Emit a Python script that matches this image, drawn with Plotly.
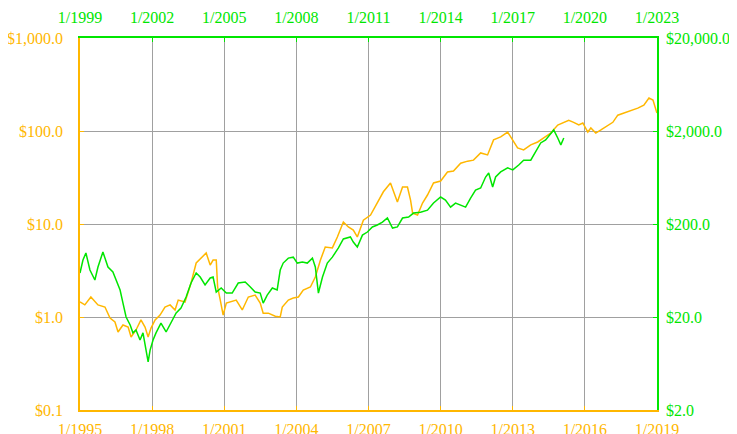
import math
import plotly.graph_objects as go

# ---------------- data ----------------
orange_dates = [
    "1995-01-01", "1995-03-15", "1995-06-15", "1995-10-01", "1996-01-15", "1996-04-01",
    "1996-06-15", "1996-08-01", "1996-10-15", "1997-01-01", "1997-02-15", "1997-05-01",
    "1997-07-15", "1997-09-15", "1997-11-01", "1997-12-15", "1998-02-15", "1998-05-01",
    "1998-07-15", "1998-10-01", "1998-12-15", "1999-02-01", "1999-05-15", "1999-08-15",
    "1999-11-01", "2000-01-15", "2000-04-01", "2000-06-01", "2000-07-15", "2000-09-01",
    "2000-09-22", "2000-11-01", "2000-12-15", "2001-02-01", "2001-04-15", "2001-07-01",
    "2001-10-01", "2002-01-01", "2002-04-15", "2002-07-01", "2002-08-15", "2002-11-01",
    "2003-02-15", "2003-05-01", "2003-06-01", "2003-09-01", "2003-11-15", "2004-02-01",
    "2004-04-15", "2004-08-01", "2004-10-15", "2005-01-01", "2005-03-15", "2005-07-01",
    "2005-09-15", "2005-12-15", "2006-03-01", "2006-05-15", "2006-07-15", "2006-10-15",
    "2007-02-01", "2007-05-15", "2007-08-15", "2007-12-01", "2008-01-15", "2008-03-15",
    "2008-06-01", "2008-08-15", "2008-10-01", "2008-11-01", "2009-01-15", "2009-04-01",
    "2009-06-15", "2009-09-15", "2010-01-01", "2010-04-15", "2010-07-15", "2010-11-01",
    "2011-02-15", "2011-05-15", "2011-09-01", "2011-12-15", "2012-03-15", "2012-07-01",
    "2012-10-15", "2013-01-01", "2013-03-15", "2013-06-15", "2013-10-01", "2014-01-15",
    "2014-04-15", "2014-08-01", "2014-11-15", "2015-02-15", "2015-05-01", "2015-07-15",
    "2015-10-01", "2015-12-01", "2016-02-15", "2016-04-01", "2016-06-15", "2016-09-01",
    "2016-12-15", "2017-03-01", "2017-05-15", "2017-08-15", "2017-12-01", "2018-03-15",
    "2018-06-15", "2018-09-01", "2018-11-01", "2018-12-15", "2018-12-31",
]
orange_values = [
    1.45, 1.35, 1.64, 1.35, 1.28, 0.975,
    0.883, 0.69, 0.82, 0.78, 0.61, 0.725,
    0.93, 0.78, 0.61, 0.76, 0.93, 1.05,
    1.28, 1.35, 1.19, 1.52, 1.45, 2.32,
    3.81, 4.31, 4.88, 3.62, 4.10, 4.10,
    2.10, 1.52, 1.05, 1.41, 1.45, 1.52,
    1.19, 1.64, 1.72, 1.41, 1.10, 1.10,
    1.02, 1.00, 1.28, 1.52, 1.60, 1.64,
    1.95, 2.10, 2.69, 4.10, 5.66, 5.53,
    7.25, 10.5, 9.29, 8.6, 7.25, 11.0,
    12.5, 16.8, 22.2, 27.6, 22.2, 17.2,
    25.0, 25.0, 18.1, 13.1, 12.5, 16.8,
    20.5, 27.6, 29.0, 36.3, 37.2, 45.1,
    47.4, 48.6, 58.1, 55.3, 80.2, 86.3,
    97.4, 80.2, 65.7, 62.6, 70.9, 76.2,
    84.2, 95.1, 116.0, 124.0, 130.0, 124.0,
    116.0, 122.0, 97.4, 107.7, 95.1, 102.6,
    116.0, 124.0, 148.0, 156.0, 168.0, 176.0,
    190.0, 226.0, 215.0, 168.0, 156.0,
]

green_dates = [
    "1999-01-01", "1999-02-15", "1999-04-01", "1999-06-01", "1999-08-15", "1999-10-01",
    "1999-12-15", "2000-03-01", "2000-05-15", "2000-07-01", "2000-09-01", "2000-10-15",
    "2000-12-01", "2001-02-01", "2001-03-15", "2001-05-01", "2001-07-01", "2001-08-15",
    "2001-10-01", "2001-11-01", "2001-12-01", "2002-01-15", "2002-03-01", "2002-05-15",
    "2002-08-01", "2002-10-15", "2003-01-01", "2003-03-15", "2003-06-01", "2003-08-15",
    "2003-11-01", "2004-01-01", "2004-03-15", "2004-06-01", "2004-07-15", "2004-09-01",
    "2004-11-15", "2005-02-01", "2005-05-01", "2005-08-01", "2005-11-15", "2006-02-01",
    "2006-04-15", "2006-07-01", "2006-08-15", "2006-10-15", "2007-01-01", "2007-03-15",
    "2007-05-01", "2007-06-15", "2007-09-01", "2007-11-15", "2008-01-15", "2008-04-01",
    "2008-06-15", "2008-09-01", "2008-10-15", "2008-12-01", "2009-02-01", "2009-04-15",
    "2009-07-01", "2009-10-01", "2009-12-15", "2010-04-01", "2010-05-15", "2010-07-15",
    "2010-10-01", "2010-12-15", "2011-03-01", "2011-05-15", "2011-08-01", "2011-10-15",
    "2012-01-01", "2012-03-15", "2012-06-01", "2012-09-01", "2012-11-15", "2013-03-01",
    "2013-06-15", "2013-09-15", "2014-01-01", "2014-03-15", "2014-06-01", "2014-08-15",
    "2014-11-01", "2015-01-15", "2015-04-01", "2015-06-15", "2015-09-01", "2015-11-15",
    "2016-01-01", "2016-03-01", "2016-04-15", "2016-07-01", "2016-10-15", "2017-01-01",
    "2017-04-01", "2017-06-15", "2017-10-01", "2017-12-15", "2018-03-01", "2018-05-15",
    "2018-08-01", "2018-09-15", "2018-11-15", "2019-01-01", "2019-02-15",
]
green_values = [
    59.5, 82, 97.6, 64, 50, 69,
    100, 69, 61, 50, 39, 28.2,
    20, 16.4, 13.5, 14.5, 11.3, 13.5,
    8.2, 6.6, 8.8, 11.3, 13.5, 17.2,
    13.8, 17.2, 22.1, 25, 32.8, 46.4,
    59.5, 53.8, 44.2, 52.6, 53.8, 37.1,
    41, 36.2, 36.2, 46.4, 47.6, 42,
    37.1, 36.2, 28.2, 34.4, 41, 39,
    64, 76, 86, 88, 76, 78,
    76, 86, 69, 36.2, 53.8, 76,
    88, 110.6, 138, 145, 128, 113,
    152, 164, 186, 195, 210, 232,
    181, 186, 232, 238, 262, 268,
    282, 336, 390, 362, 304, 336,
    320, 304, 380, 464, 488, 640,
    708, 500, 640, 726, 802, 764,
    862, 972, 972, 1190, 1488, 1604,
    1902, 2052, 1684, 1418, 1684,
]

bottom_ticks = ["1995-01-01", "1998-01-01", "2001-01-01", "2004-01-01", "2007-01-01",
                "2010-01-01", "2013-01-01", "2016-01-01", "2019-01-01"]
bottom_labels = ["1/1995", "1/1998", "1/2001", "1/2004", "1/2007",
                 "1/2010", "1/2013", "1/2016", "1/2019"]
top_ticks = ["1999-01-01", "2002-01-01", "2005-01-01", "2008-01-01", "2011-01-01",
             "2014-01-01", "2017-01-01", "2020-01-01", "2023-01-01"]
top_labels = ["1/1999", "1/2002", "1/2005", "1/2008", "1/2011",
              "1/2014", "1/2017", "1/2020", "1/2023"]
left_ticks = [0.1, 1, 10, 100, 1000]
left_labels = ["$0.1", "$1.0", "$10.0", "$100.0", "$1,000.0"]
right_ticks = [2, 20, 200, 2000, 20000]
right_labels = ["$2.0", "$20.0", "$200.0", "$2,000.0", "$20,000.0"]

# ---------------- styles ----------------
ORANGE = "#FFB700"
GREEN = "#00E600"
GRID = "#A0A0A0"
FONT = "Liberation Serif, Times New Roman, DejaVu Serif, serif"

fig = go.Figure()
fig.add_trace(go.Scatter(x=orange_dates, y=orange_values, mode="lines",
                         line=dict(color=ORANGE, width=1.5), xaxis="x", yaxis="y",
                         showlegend=False))
fig.add_trace(go.Scatter(x=green_dates, y=green_values, mode="lines",
                         line=dict(color=GREEN, width=1.5), xaxis="x2", yaxis="y2",
                         showlegend=False))

common = dict(automargin=False, zeroline=False, ticks="inside", ticklen=4,
              showline=True, linewidth=1.5)

fig.update_layout(
    width=729, height=426,
    margin=dict(l=72, r=80, t=30, b=24, autoexpand=False),
    paper_bgcolor="white", plot_bgcolor="white",
    font=dict(family=FONT, size=16),
    showlegend=False,
    xaxis=dict(type="date", range=["1995-01-01", "2019-01-01"],
               tickmode="array", tickvals=bottom_ticks, ticktext=bottom_labels,
               tickfont=dict(color=ORANGE, family=FONT, size=16),
               showgrid=True, gridcolor=GRID, gridwidth=1,
               linecolor=ORANGE, tickcolor=ORANGE,
               side="bottom", anchor="y", ticklabelstandoff=4, **common),
    xaxis2=dict(type="date", range=["1999-01-01", "2023-01-01"],
                tickmode="array", tickvals=top_ticks, ticktext=top_labels,
                tickfont=dict(color=GREEN, family=FONT, size=16),
                showgrid=False, linecolor=GREEN, tickcolor=GREEN,
                side="top", overlaying="x", anchor="y", ticklabelstandoff=7, **common),
    yaxis=dict(type="log", range=[-1, 3],
               tickmode="array", tickvals=left_ticks, ticktext=left_labels,
               tickfont=dict(color=ORANGE, family=FONT, size=16),
               showgrid=True, gridcolor=GRID, gridwidth=1,
               linecolor=ORANGE, tickcolor=ORANGE,
               side="left", anchor="x", ticklabelstandoff=12, **common),
    yaxis2=dict(type="log", range=[math.log10(2), math.log10(20000)],
                tickmode="array", tickvals=right_ticks, ticktext=right_labels,
                tickfont=dict(color=GREEN, family=FONT, size=16),
                showgrid=False, linecolor=GREEN, tickcolor=GREEN,
                side="right", overlaying="y", anchor="x", ticklabelstandoff=4, **common),
)

fig.write_html("out.html")
